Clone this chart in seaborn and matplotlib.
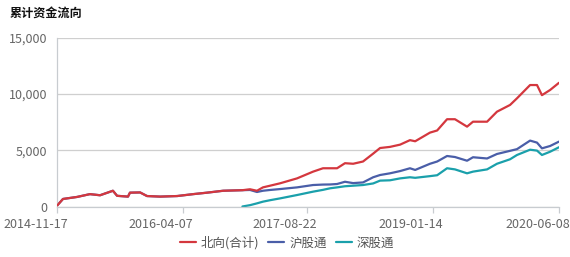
import matplotlib
matplotlib.use("Agg")
import matplotlib.pyplot as plt
import matplotlib.transforms as mtransforms
import matplotlib.dates as mdates
import matplotlib.ticker as mticker
import numpy as np
import pandas as pd
import seaborn as sns

dates = [
    "2014-11-17", "2014-12-10", "2015-02-05", "2015-03-29", "2015-05-09", "2015-06-30",
    "2015-07-17", "2015-08-30", "2015-09-07", "2015-10-18", "2015-11-15", "2016-01-07",
    "2016-03-16", "2016-05-20", "2016-07-15", "2016-09-18", "2016-12-05", "2017-01-05",
    "2017-02-02", "2017-02-26", "2017-03-27", "2017-05-06", "2017-07-14", "2017-09-17",
    "2017-10-27", "2017-11-25", "2017-12-23", "2018-01-24", "2018-02-26", "2018-04-07",
    "2018-05-18", "2018-06-15", "2018-07-25", "2018-09-04", "2018-10-14", "2018-11-04",
    "2019-01-03", "2019-02-01", "2019-03-13", "2019-04-14", "2019-06-02", "2019-06-26",
    "2019-08-22", "2019-10-01", "2019-11-23", "2019-12-21", "2020-02-12", "2020-03-11",
    "2020-03-31", "2020-05-03", "2020-06-08",
]

north_total = [
    100, 670, 850, 1100, 1000, 1400,
    950, 880, 1230, 1250, 930, 880,
    930, 1100, 1230, 1400, 1450, 1530,
    1400, 1700, 1850, 2060, 2500, 3100,
    3400, 3400, 3400, 3850, 3800, 4000,
    4700, 5200, 5300, 5500, 5900, 5800,
    6570, 6760, 7760, 7760, 7100, 7540,
    7540, 8430, 9030, 9620, 10800, 10800,
    9900, 10360, 11000,
]

sh_connect = [
    100, 670, 850, 1100, 1000, 1400,
    950, 880, 1230, 1250, 930, 880,
    930, 1100, 1230, 1400, 1450, 1470,
    1290, 1400, 1470, 1550, 1700, 1910,
    1950, 1960, 2000, 2200, 2080, 2140,
    2600, 2800, 2950, 3150, 3400, 3250,
    3800, 4000, 4490, 4400, 4070, 4380,
    4270, 4670, 4950, 5100, 5860, 5680,
    5170, 5380, 5770,
]

sz_connect = [
    np.nan, np.nan, np.nan, np.nan, np.nan, np.nan,
    np.nan, np.nan, np.nan, np.nan, np.nan, np.nan,
    np.nan, np.nan, np.nan, np.nan, 0, 120,
    280, 430, 560, 720, 1020, 1320,
    1480, 1620, 1700, 1800, 1850, 1910,
    2050, 2300, 2330, 2500, 2600, 2550,
    2700, 2780, 3400, 3300, 2950, 3100,
    3300, 3800, 4200, 4580, 5050, 4970,
    4580, 4870, 5270,
]

series_names = ["北向(合计)", "沪股通", "深股通"]
colors = ["#d4373e", "#4a5ea8", "#1aa0ab"]
x_ticks = ["2014-11-17", "2016-04-07", "2017-08-22", "2019-01-14", "2020-06-08"]
y_ticks = [0, 5000, 10000, 15000]
title = "累计资金流向"

frames = []
for name, vals in zip(series_names, [north_total, sh_connect, sz_connect]):
    frames.append(pd.DataFrame({"date": pd.to_datetime(dates), "value": vals, "series": name}))
df = pd.concat(frames).dropna()

sns.set_style("white")
plt.rcParams["font.family"] = ["Noto Sans CJK SC", "DejaVu Sans"]

fig = plt.figure(figsize=(5.70, 2.57), dpi=100)
ax = fig.add_axes([57.3 / 570, 1 - 206.5 / 257, (559 - 57.3) / 570, (206.5 - 37.8) / 257])

sns.lineplot(data=df, x="date", y="value", hue="series", hue_order=series_names,
             palette=colors, estimator=None, linewidth=1.6, ax=ax, legend=True)
ax.lines[0].set_zorder(4)

ax.set_xlim(pd.Timestamp(x_ticks[0]), pd.Timestamp(x_ticks[-1]))
ax.set_ylim(y_ticks[0], y_ticks[-1])
ax.set_xlabel("")
ax.set_ylabel("")

ax.set_yticks(y_ticks)
ax.yaxis.set_major_formatter(mticker.FuncFormatter(lambda v, p: f"{int(v):,}"))
ax.set_xticks(pd.to_datetime(x_ticks))
ax.set_xticklabels(x_ticks)

for s in ["top", "right"]:
    ax.spines[s].set_visible(False)
for s in ["left", "bottom"]:
    ax.spines[s].set_color("#c8ccd0")
    ax.spines[s].set_linewidth(0.9)

ax.grid(axis="y", color="#cfcfcf", linewidth=0.9)
ax.grid(axis="x", visible=False)
ax.set_axisbelow(True)

ax.tick_params(axis="x", length=4, color="#c8ccd0", width=0.9, labelsize=9,
               labelcolor="#666666", pad=4, direction="out", bottom=True)
ax.tick_params(axis="y", length=0, labelsize=9, labelcolor="#666666", pad=7)

offset = mtransforms.ScaledTranslation(-21.5 / 100, 0, fig.dpi_scale_trans)
for lbl in ax.get_xticklabels():
    lbl.set_transform(lbl.get_transform() + offset)

handles, labels = ax.get_legend_handles_labels()
ax.legend(handles=handles, labels=labels, loc="center", bbox_to_anchor=(287 / 570, 1 - 243 / 257),
          bbox_transform=fig.transFigure, ncol=3, frameon=False, fontsize=9,
          handlelength=1.3, handletextpad=0.4, columnspacing=0.7, borderaxespad=0,
          labelcolor="#555555")

fig.text(10 / 570, 1 - 13 / 257, title, fontsize=8.7, fontweight="bold", color="#111111",
         ha="left", va="center")

fig.savefig("out.png", dpi=100)
